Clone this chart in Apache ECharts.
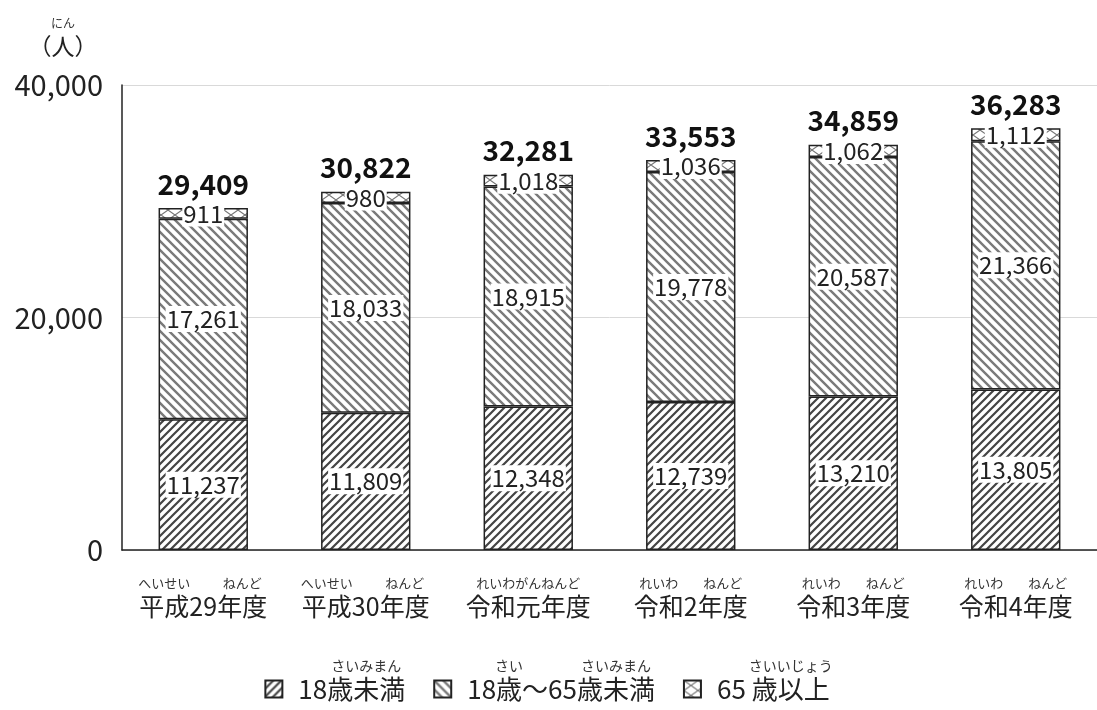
<!DOCTYPE html>
<html><head><meta charset="utf-8">
<script src="https://cdn.jsdelivr.net/npm/echarts@6/dist/echarts.min.js"></script>
<style>html,body{margin:0;padding:0;background:#fff}#c{width:1097px;height:710px}</style>
</head><body><div id="c"></div>
<script>
// ---- data ----
const categories = ['平成29年度','平成30年度','令和元年度','令和2年度','令和3年度','令和4年度'];
const categoryRuby = [
  [['平成','へいせい'],['29',''],['年度','ねんど']],
  [['平成','へいせい'],['30',''],['年度','ねんど']],
  [['令和元年度','れいわがんねんど']],
  [['令和','れいわ'],['2',''],['年度','ねんど']],
  [['令和','れいわ'],['3',''],['年度','ねんど']],
  [['令和','れいわ'],['4',''],['年度','ねんど']]
];
const seriesNames = ['18歳未満','18歳～65歳未満','65 歳以上'];
const seriesRuby = [
  [['18',''],['歳未満','さいみまん']],
  [['18',''],['歳','さい'],['～65',''],['歳未満','さいみまん']],
  [['65 ',''],['歳以上','さいいじょう']]
];
const under18 = [11237, 11809, 12348, 12739, 13210, 13805];
const age18to65 = [17261, 18033, 18915, 19778, 20587, 21366];
const over65 = [911, 980, 1018, 1036, 1062, 1112];
const totals = [29409, 30822, 32281, 33553, 34859, 36283];
const yTicks = [0, 20000, 40000];
const unitRuby = ['（人）', 'にん'];

// ---- helpers ----
const FONT = '"Noto Sans CJK JP", "Noto Sans", sans-serif';
const mctx = document.createElement('canvas').getContext('2d');
function measure(t, size, weight) {
  mctx.font = (weight || 'normal') + ' ' + size + 'px ' + FONT;
  return mctx.measureText(t).width;
}
let rid = 0;
function rubyText(segs, rich, baseSize, rubySize, rubyLH, baseLH, pad, blankLine) {
  let top = '', base = '';
  if (pad) {
    rich['padT'] = {width: pad, lineHeight: rubyLH, fontSize: rubySize};
    rich['padB'] = {width: pad, lineHeight: baseLH, fontSize: rubySize};
    top += '{padT| }';
    base += '{padB| }';
  }
  segs.forEach(([b, r]) => {
    const name = 'r' + (rid++);
    rich[name] = {width: measure(b, baseSize), align: 'center', fontSize: rubySize, lineHeight: rubyLH, color: '#333', fontFamily: FONT};
    top += '{' + name + '|' + (r || ' ') + '}';
  });
  base += '{m|' + segs.map(s => s[0]).join('') + '}';
  let s = top + '\n' + base;
  if (blankLine) s += '\n{bl| }';
  return s;
}
function makePattern(kind) {
  const c = document.createElement('canvas');
  const ctx = c.getContext('2d');
  if (kind === 'fwd') {
    const s = 8; c.width = s; c.height = s;
    ctx.fillStyle = '#fff'; ctx.fillRect(0, 0, s, s);
    ctx.strokeStyle = '#444'; ctx.lineWidth = 2.2;
    ctx.beginPath();
    for (let k = -1; k <= 1; k++) { ctx.moveTo(k * s - 1, s + 1); ctx.lineTo(k * s + s + 1, -1); }
    ctx.stroke();
  } else if (kind === 'back') {
    const s = 9; c.width = s; c.height = s;
    ctx.fillStyle = '#fff'; ctx.fillRect(0, 0, s, s);
    ctx.strokeStyle = '#7a7a7a'; ctx.lineWidth = 2.4;
    ctx.beginPath();
    for (let k = -1; k <= 1; k++) { ctx.moveTo(k * s - 1, -1); ctx.lineTo(k * s + s + 1, s + 1); }
    ctx.stroke();
  } else {
    const w = 14, h = 10; c.width = w; c.height = h;
    ctx.fillStyle = '#fff'; ctx.fillRect(0, 0, w, h);
    ctx.strokeStyle = '#777'; ctx.lineWidth = 1.1;
    ctx.beginPath();
    ctx.moveTo(0, 0); ctx.lineTo(w, h);
    ctx.moveTo(0, h); ctx.lineTo(w, 0);
    ctx.stroke();
  }
  return {image: c, repeat: 'repeat'};
}
const fmt = v => Number(v).toLocaleString('en-US');

// ---- axis label rich text ----
const axisRich = {m: {fontSize: 25, lineHeight: 30, color: '#222', fontFamily: FONT}};
const axisLabels = {};
categories.forEach((c, i) => { axisLabels[c] = rubyText(categoryRuby[i], axisRich, 25, 13, 16, 30, 0, false); });

const legendRich = {m: {fontSize: 26, lineHeight: 30, color: '#222', fontFamily: FONT}, bl: {lineHeight: 16, fontSize: 12}};
const legendLabels = {};
seriesNames.forEach((n, i) => { legendLabels[n] = rubyText(seriesRuby[i], legendRich, 26, 14, 16, 30, 11, true); });

const patterns = [makePattern('fwd'), makePattern('back'), makePattern('cross')];
const values = [under18, age18to65, over65];

const segLabel = {
  show: true, position: 'inside', formatter: p => fmt(p.value),
  fontSize: 24, color: '#222', fontFamily: FONT,
  backgroundColor: '#fff', padding: [1, 1]
};

const series = seriesNames.map((n, i) => ({
  name: n, type: 'bar', stack: 'total', barWidth: '55%',
  data: values[i],
  itemStyle: {color: patterns[i], borderColor: '#222', borderWidth: 1.5},
  label: segLabel,
  emphasis: {disabled: true}
}));
series.push({
  name: '合計', type: 'scatter', data: totals, symbolSize: 0, silent: true,
  itemStyle: {opacity: 1},
  label: {show: true, position: 'top', distance: 10, formatter: p => fmt(p.value),
    fontSize: 28, fontWeight: 'bold', color: '#111', fontFamily: FONT}
});

const chart = echarts.init(document.getElementById('c'), null, {renderer: 'canvas'});
chart.setOption({
  animation: false,
  backgroundColor: '#fff',
  textStyle: {fontFamily: FONT},
  grid: {left: 122, top: 85, width: 982, bottom: 160, containLabel: false},
  legend: {
    data: seriesNames, left: 'center', top: 659, padding: 0,
    icon: 'rect', itemWidth: 17, itemHeight: 17, itemGap: 28,
    selectedMode: false,
    formatter: n => legendLabels[n],
    textStyle: {rich: legendRich, fontFamily: FONT}
  },
  xAxis: {
    type: 'category', data: categories,
    axisLine: {lineStyle: {color: '#222', width: 1.5}},
    axisTick: {show: false},
    axisLabel: {interval: 0, margin: 25, formatter: v => axisLabels[v], rich: axisRich}
  },
  yAxis: {
    type: 'value', min: yTicks[0], max: yTicks[yTicks.length - 1], interval: yTicks[1] - yTicks[0],
    name: '{r|' + unitRuby[1] + '}\n{m|' + unitRuby[0] + '}',
    nameLocation: 'end', nameGap: 24,
    nameTextStyle: {align: 'center', padding: [0, 118, 0, 0],
      rich: {r: {fontSize: 12, lineHeight: 16, color: '#333', fontFamily: FONT, align: 'center'},
             m: {fontSize: 23, lineHeight: 30, color: '#222', fontFamily: FONT, align: 'center'}}},
    axisLine: {show: true, lineStyle: {color: '#222', width: 1.5}},
    axisTick: {show: false},
    splitLine: {lineStyle: {color: '#d9d9d9', width: 1}},
    axisLabel: {formatter: v => fmt(v), fontSize: 29, color: '#222', margin: 19, fontFamily: FONT}
  },
  series: series
});
</script></body></html>
